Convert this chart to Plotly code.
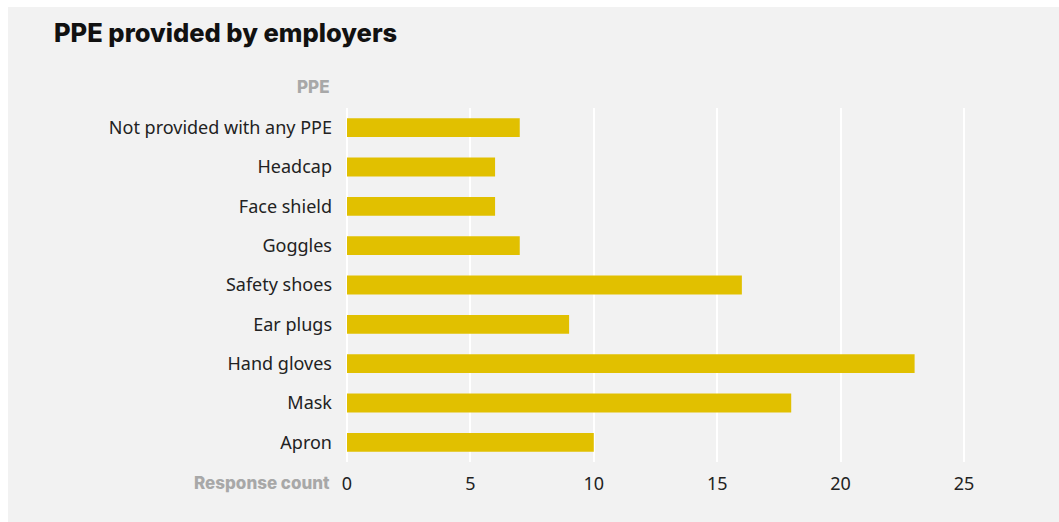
import plotly.graph_objects as go

# PPE items (bottom to top) and number of responses
items = ["Apron", "Mask", "Hand gloves", "Ear plugs", "Safety shoes",
         "Goggles", "Face shield", "Headcap", "Not provided with any PPE"]
counts = [10, 18, 23, 9, 16, 7, 6, 6, 7]
x_ticks = [0, 5, 10, 15, 20, 25]

W, H = 1059, 522
L, R, T, B = 347, 21, 108, 60
pw, ph = W - L - R, H - T - B

label_font = "Noto Sans"
title_font = "Inter"

fig = go.Figure(go.Bar(
    x=counts, y=items, orientation="h",
    marker=dict(color="#e1c000", line=dict(width=0)),
    hoverinfo="x+y",
))

fig.update_layout(
    width=W, height=H,
    margin=dict(l=L, r=R, t=T, b=B),
    paper_bgcolor="white",
    plot_bgcolor="rgba(0,0,0,0)",
    bargap=0.52,
    showlegend=False,
    title=dict(
        text="PPE provided by employers",
        x=54 / W, xanchor="left", xref="container",
        y=1 - 33 / H, yanchor="middle", yref="container",
        font=dict(family=title_font, size=25.5, color="#111111", weight=800),
    ),
    xaxis=dict(
        range=[0, 28], tickvals=x_ticks,
        showgrid=True, gridcolor="white", gridwidth=2,
        zeroline=True, zerolinecolor="white", zerolinewidth=2,
        showline=False, ticks="",
        ticklabelstandoff=9,
        tickfont=dict(family=label_font, size=18, color="#222222"),
    ),
    yaxis=dict(
        showgrid=False, zeroline=False, showline=False, ticks="",
        ticklabelstandoff=14,
        tickfont=dict(family=label_font, size=18, color="#222222"),
    ),
    shapes=[dict(
        type="rect", xref="paper", yref="paper", layer="below",
        x0=(8 - L) / pw, x1=(W - L) / pw,
        y0=-B / ph, y1=(ph + T - 7) / ph,
        fillcolor="#f2f2f2", line=dict(width=0),
    )],
    annotations=[
        dict(text="PPE", xref="paper", yref="paper", x=0, y=1,
             xanchor="right", yanchor="middle", xshift=-15, yshift=21,
             showarrow=False,
             font=dict(family=title_font, size=17, color="#a8a8a8", weight=800)),
        dict(text="Response count", xref="paper", yref="paper", x=0, y=0,
             xanchor="right", yanchor="middle", xshift=-15, yshift=-21,
             showarrow=False,
             font=dict(family=title_font, size=17, color="#a8a8a8", weight=800)),
    ],
)

fig.write_html("out.html")
